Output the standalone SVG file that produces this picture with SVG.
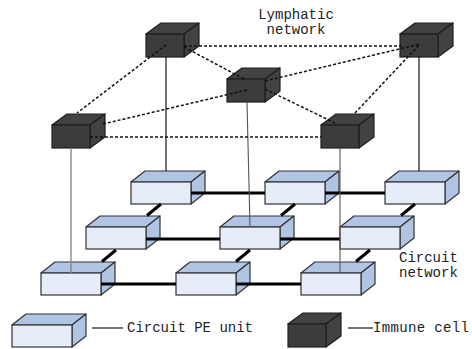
<svg xmlns="http://www.w3.org/2000/svg" xmlns:xlink="http://www.w3.org/1999/xlink" width="472" height="349" viewBox="0 0 472 349">
  <style>
    .pe-front { fill: #e6edf8; stroke: #333; stroke-width: 1.2; }
    .pe-face { fill: #b0c4e4; stroke: #333; stroke-width: 1.2; stroke-linejoin: round; }
    .ic-front { fill: #3c3c3c; stroke: #1e1e1e; stroke-width: 1.2; }
    .ic-face { fill: #424242; stroke: #1e1e1e; stroke-width: 1.2; stroke-linejoin: round; }
    .lymph { stroke: #111; stroke-width: 1.5; stroke-dasharray: 3 2; fill: none; }
    .bus { stroke: #000; stroke-width: 3; fill: none; }
    .link { stroke: #000; stroke-width: 1.1; fill: none; }
    .link-grey { stroke: #8a8a8a; stroke-width: 1.4; fill: none; }
    .link-mid { stroke: #555; stroke-width: 1.1; fill: none; }
    .label { font-family: "Liberation Mono", "DejaVu Sans Mono", monospace; font-size: 14px; fill: #222; }
  </style>
  <defs>
    <!-- circuit processing element: light front, blue top and side -->
    <g id="pe">
      <polygon class="pe-face" points="0,0 14,-11 74,-11 60,0"/>
      <polygon class="pe-face" points="60,0 74,-11 74,11 60,22"/>
      <rect class="pe-front" x="0" y="0" width="60" height="22"/>
    </g>
    <!-- immune cell: dark cube -->
    <g id="ic">
      <polygon class="ic-face" points="0,0 15,-11 53,-11 38,0"/>
      <polygon class="ic-face" points="38,0 53,-11 53,12 38,23"/>
      <rect class="ic-front" x="0" y="0" width="38" height="23"/>
    </g>
  </defs>

  <rect width="472" height="349" fill="#fff"/>

  <!-- circuit network, back row first -->
  <g id="pe-r1c1"><use xlink:href="#pe" x="131" y="182"/></g>
  <g id="pe-r1c2"><use xlink:href="#pe" x="265" y="182"/></g>
  <g id="pe-r1c3"><use xlink:href="#pe" x="385" y="182"/></g>
  <g id="pe-r2c1"><use xlink:href="#pe" x="86" y="227"/></g>
  <g id="pe-r2c2"><use xlink:href="#pe" x="220" y="227"/></g>
  <g id="pe-r2c3"><use xlink:href="#pe" x="340" y="227"/></g>
  <g id="pe-r3c1"><use xlink:href="#pe" x="41" y="273"/></g>
  <g id="pe-r3c2"><use xlink:href="#pe" x="176" y="273"/></g>
  <g id="pe-r3c3"><use xlink:href="#pe" x="301" y="273"/></g>

  <!-- lymphatic network -->
  <g id="ic-a"><use xlink:href="#ic" x="146" y="34"/></g>
  <g id="ic-b"><use xlink:href="#ic" x="52" y="125"/></g>
  <g id="ic-c"><use xlink:href="#ic" x="227" y="79"/></g>
  <g id="ic-d"><use xlink:href="#ic" x="400" y="34"/></g>
  <g id="ic-e"><use xlink:href="#ic" x="321" y="125"/></g>

  <g id="connectors">
    <!-- circuit buses, rows -->
    <line class="bus" x1="191" y1="193" x2="265" y2="193"/>
    <line class="bus" x1="325" y1="193" x2="385" y2="193"/>
    <line class="bus" x1="146" y1="239" x2="220" y2="239"/>
    <line class="bus" x1="280" y1="239" x2="340" y2="239"/>
    <line class="bus" x1="101" y1="284" x2="176" y2="284"/>
    <line class="bus" x1="236" y1="284" x2="301" y2="284"/>
    <!-- circuit buses, between rows -->
    <line class="bus" x1="161" y1="204" x2="147" y2="215.5"/>
    <line class="bus" x1="295" y1="204" x2="281" y2="215.5"/>
    <line class="bus" x1="415" y1="204" x2="401" y2="215.5"/>
    <line class="bus" x1="116" y1="250" x2="102" y2="261.5"/>
    <line class="bus" x1="250" y1="250" x2="236" y2="261.5"/>
    <line class="bus" x1="370" y1="250" x2="356" y2="261.5"/>

    <!-- immune cell to PE unit -->
    <line class="link" x1="166" y1="57" x2="166" y2="171"/>
    <line class="link" x1="419" y1="57" x2="419" y2="171"/>
    <line class="link-grey" x1="71" y1="148" x2="71" y2="273"/>
    <line class="link-mid" x1="247" y1="102" x2="250" y2="227"/>
    <line class="link-mid" x1="340" y1="148" x2="340" y2="273"/>

    <!-- lymphatic links -->
    <line class="lymph" x1="166" y1="45" x2="77" y2="113"/>
    <line class="lymph" x1="184" y1="46" x2="404" y2="46"/>
    <line class="lymph" x1="184" y1="47" x2="244" y2="79"/>
    <line class="lymph" x1="103" y1="124" x2="247" y2="90"/>
    <line class="lymph" x1="90" y1="137" x2="321" y2="137"/>
    <line class="lymph" x1="265" y1="81" x2="420" y2="44"/>
    <line class="lymph" x1="265" y1="89" x2="337" y2="124"/>
    <line class="lymph" x1="355" y1="113" x2="420" y2="44"/>

    <!-- legend leaders -->
    <line class="link" x1="92" y1="328" x2="123" y2="328"/>
    <line class="link" x1="348" y1="328" x2="373" y2="328"/>
  </g>

  <!-- labels -->
  <text class="label" x="296" y="19" text-anchor="middle">Lymphatic</text>
  <text class="label" x="296" y="34" text-anchor="middle">network</text>
  <text class="label" x="399" y="262">Circuit</text>
  <text class="label" x="399" y="277">network</text>

  <!-- legend -->
  <g id="legend-pe"><use xlink:href="#pe" x="12" y="325"/></g>
  <text class="label" x="127" y="332">Circuit PE unit</text>
  <g id="legend-ic"><use xlink:href="#ic" x="288" y="324"/></g>
  <text class="label" x="373" y="332" textLength="96">Immune cell</text>
</svg>
